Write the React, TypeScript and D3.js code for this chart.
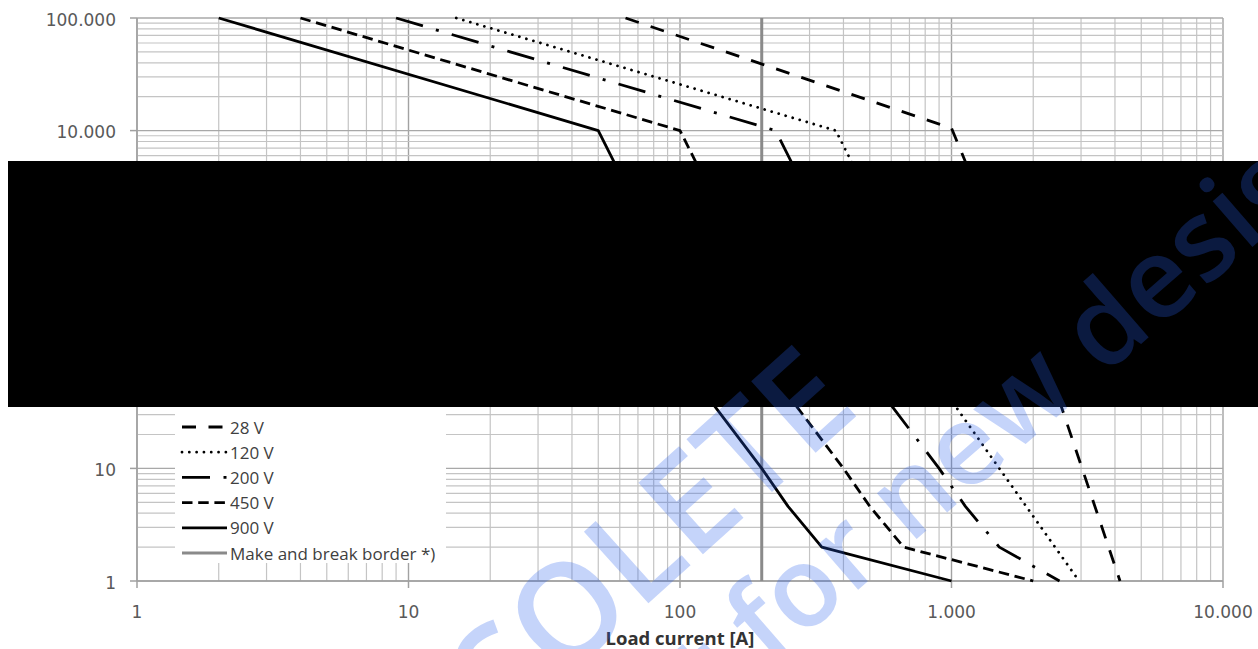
import React from "react";
import * as d3 from "d3";

// ---- data ----
const xDomain: [number, number] = [1, 10000];
const yDomain: [number, number] = [1, 100000];
const xTickValues = [1, 10, 100, 1000, 10000];
const yTickValues = [1, 10, 100, 1000, 10000, 100000];
const xTitle = "Load current [A]";

const seriesNames = ["28 V", "120 V", "200 V", "450 V", "900 V"];
const v28: [number, number][] = [[63, 100000], [1000, 10500], [2075, 150], [4175, 1]];
const v120: [number, number][] = [[15, 100000], [375, 10000], [562, 1430], [900, 51], [1040, 35], [1500, 10], [2950, 1]];
const v200: [number, number][] = [[9, 100000], [225, 10000], [337, 1430], [540, 51], [607, 35], [900, 10], [1125, 4.6], [1500, 2], [2500, 1]];
const v450: [number, number][] = [[4, 100000], [100, 10000], [150, 1430], [240, 51], [270, 35], [400, 10], [500, 4.6], [666, 2], [2000, 1]];
const v900: [number, number][] = [[2, 100000], [50, 10000], [75, 1430], [120, 51], [135, 35], [200, 10], [250, 4.6], [333, 2], [1000, 1]];
const seriesValues = [v28, v120, v200, v450, v900];

const borderName = "Make and break border *)";
const borderCurrent = 200;

const watermarkLines = ["OBSOLETE", "not for new design"];

// ---- styles ----
const dashStyles: { dash: string | undefined; cap: "butt" | "round" }[] = [
  { dash: "14 12.5", cap: "butt" },
  { dash: "0.01 7.3", cap: "round" },
  { dash: "28 13.5 3 13.5", cap: "butt" },
  { dash: "10.5 5.7", cap: "butt" },
  { dash: undefined, cap: "butt" },
];

const W = 1258;
const H = 649;
const plot = { left: 137, right: 1223, top: 18, bottom: 581 };

const fmt = (v: number) => d3.format(",")(v).replace(/,/g, ".");

export default function App() {
  const x = d3.scaleLog().domain(xDomain).range([plot.left, plot.right]);
  const y = d3.scaleLog().domain(yDomain).range([plot.bottom, plot.top]);
  const line = d3
    .line<[number, number]>()
    .x((d) => x(d[0]))
    .y((d) => y(d[1]));

  const isMajor = (v: number) => Math.abs(Math.log10(v) - Math.round(Math.log10(v))) < 1e-9;
  const xGrid = x.ticks();
  const yGrid = y.ticks();

  const axisFont = "'DejaVu Sans', sans-serif";
  const legFont = "'Open Sans', sans-serif";

  const legX0 = 182;
  const legX1 = 227;
  const legTextX = 230;
  const legY0 = 427;
  const legStep = 25.2;

  return (
    <svg
      width={W}
      height={H}
      style={{ position: "absolute", left: 0, top: 0, background: "#fff" }}
    >
      <rect x={0} y={0} width={W} height={H} fill="#fff" />
      {/* grid */}
      <g>
        {xGrid.map((v, i) => (
          <line
            key={"gx" + i}
            x1={x(v)}
            x2={x(v)}
            y1={plot.top}
            y2={plot.bottom}
            stroke={isMajor(v) ? "#a2a2a2" : "#c4c4c4"}
            strokeWidth={isMajor(v) ? 1.4 : 1.2}
          />
        ))}
        {yGrid.map((v, i) => (
          <line
            key={"gy" + i}
            x1={plot.left}
            x2={plot.right}
            y1={y(v)}
            y2={y(v)}
            stroke={isMajor(v) ? "#a8a8a8" : "#c4c4c4"}
            strokeWidth={isMajor(v) ? 1.4 : 1.2}
          />
        ))}
      </g>
      {/* axes */}
      <g stroke="#a0a0a0" strokeWidth={1.5}>
        <line x1={plot.left} x2={plot.left} y1={plot.top} y2={plot.bottom} />
        <line x1={plot.left} x2={plot.right} y1={plot.bottom} y2={plot.bottom} />
        {xTickValues.map((v, i) => (
          <line key={"tx" + i} x1={x(v)} x2={x(v)} y1={plot.bottom} y2={plot.bottom + 7} />
        ))}
        {yTickValues.map((v, i) => (
          <line key={"ty" + i} x1={plot.left - 7} x2={plot.left} y1={y(v)} y2={y(v)} />
        ))}
      </g>
      {/* tick labels */}
      <g fill="#595959" fontFamily={axisFont} fontSize={17}>
        {xTickValues.map((v, i) => (
          <text key={"lx" + i} x={x(v)} y={618} textAnchor="middle">
            {fmt(v)}
          </text>
        ))}
        {yTickValues.map((v, i) => (
          <text key={"ly" + i} x={116} y={y(v) + 1.5} textAnchor="end" dominantBaseline="central">
            {fmt(v)}
          </text>
        ))}
      </g>
      <text
        x={680}
        y={645}
        textAnchor="middle"
        fontFamily={legFont}
        fontWeight={700}
        fontSize={18.5}
        fill="#333"
      >
        {xTitle}
      </text>
      {/* make and break border */}
      <line
        x1={x(borderCurrent)}
        x2={x(borderCurrent)}
        y1={plot.top}
        y2={plot.bottom}
        stroke="#8a8a8a"
        strokeWidth={3}
      />
      {/* series */}
      <g fill="none" stroke="#000" strokeWidth={2.8} strokeLinejoin="round">
        {seriesValues.map((vals, i) => (
          <path
            key={"s" + i}
            d={line(vals) || ""}
            strokeDasharray={dashStyles[i].dash}
            strokeLinecap={dashStyles[i].cap}
          />
        ))}
      </g>
      {/* legend */}
      <rect x={175} y={400} width={271} height={163} fill="#fff" />
      <g fontFamily={legFont} fontSize={17} fill="#404040">
        {seriesNames.map((n, i) => (
          <g key={"lg" + i}>
            <line
              x1={legX0}
              x2={legX1}
              y1={legY0 + i * legStep}
              y2={legY0 + i * legStep}
              stroke="#000"
              strokeWidth={2.8}
              strokeDasharray={dashStyles[i].dash}
              strokeLinecap={dashStyles[i].cap}
            />
            <text x={legTextX} y={legY0 + i * legStep} dominantBaseline="central">
              {n}
            </text>
          </g>
        ))}
        <line
          x1={legX0}
          x2={legX1}
          y1={legY0 + 5 * legStep}
          y2={legY0 + 5 * legStep}
          stroke="#8a8a8a"
          strokeWidth={3}
        />
        <text x={legTextX} y={legY0 + 5 * legStep} dominantBaseline="central">
          {borderName}
        </text>
      </g>
      {/* redaction */}
      <rect x={8} y={161} width={W - 8} height={246} fill="#000" />
      {/* watermark */}
      <g fill="rgb(40,95,235)" fillOpacity={0.27} fontFamily={legFont} fontWeight={600}>
        <text transform="translate(611,637) rotate(-42)" textAnchor="middle" fontSize={135}>
          {watermarkLines[0]}
        </text>
        <text transform="translate(989,476) rotate(-41)" textAnchor="middle" fontSize={112}>
          {watermarkLines[1]}
        </text>
      </g>
    </svg>
  );
}
